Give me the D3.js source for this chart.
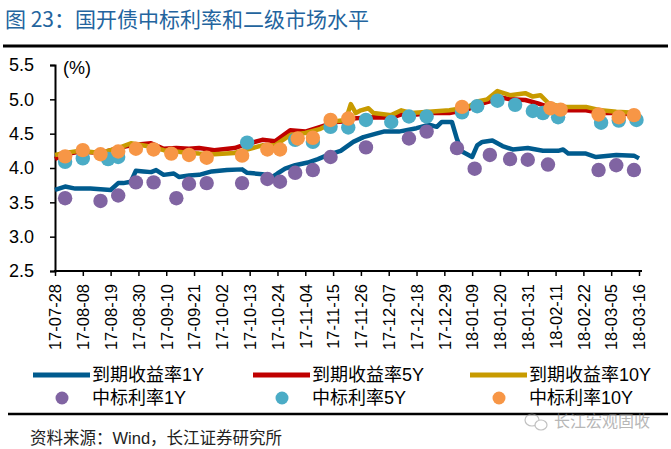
<!DOCTYPE html>
<html><head><meta charset="utf-8">
<script src="https://cdn.jsdelivr.net/npm/d3@7"></script>
<style>
html,body{margin:0;padding:0;background:#fff;}
svg{display:block;font-family:"Liberation Sans",Arial,"Noto Sans CJK SC",sans-serif;}
</style></head>
<body>
<svg id="c" width="671" height="449"></svg>
<script>
// ---------- data ----------
const tickLabels = ["17-07-28","17-08-08","17-08-19","17-08-30","17-09-10","17-09-21","17-10-02","17-10-13","17-10-24","17-11-04","17-11-15","17-11-26","17-12-07","17-12-18","17-12-29","18-01-09","18-01-20","18-01-31","18-02-11","18-02-22","18-03-05","18-03-16"];
const yTicks = [2.5,3.0,3.5,4.0,4.5,5.0,5.5];
const seriesNames = ["到期收益率1Y","到期收益率5Y","到期收益率10Y","中标利率1Y","中标利率5Y","中标利率10Y"];

const ytm1Y = [["2017-07-28",3.68],["2017-08-01",3.73],["2017-08-05",3.70],["2017-08-11",3.70],["2017-08-19",3.68],["2017-08-22",3.78],["2017-08-24",3.78],["2017-08-27",3.80],["2017-08-29",3.96],["2017-09-01",3.95],["2017-09-04",3.94],["2017-09-06",3.97],["2017-09-09",3.90],["2017-09-13",3.92],["2017-09-15",3.87],["2017-09-19",3.89],["2017-09-23",3.90],["2017-09-28",3.95],["2017-10-04",3.97],["2017-10-10",3.98],["2017-10-12",3.93],["2017-10-18",3.91],["2017-10-22",3.87],["2017-10-24",3.92],["2017-10-27",3.99],["2017-10-31",4.04],["2017-11-05",4.08],["2017-11-09",4.13],["2017-11-13",4.19],["2017-11-18",4.25],["2017-11-23",4.38],["2017-11-27",4.45],["2017-12-02",4.50],["2017-12-05",4.53],["2017-12-11",4.53],["2017-12-18",4.58],["2017-12-23",4.63],["2017-12-26",4.60],["2017-12-28",4.67],["2018-01-01",4.67],["2018-01-03",4.42],["2018-01-05",4.24],["2018-01-09",4.16],["2018-01-11",4.33],["2018-01-13",4.38],["2018-01-17",4.40],["2018-01-21",4.32],["2018-01-25",4.27],["2018-01-31",4.29],["2018-02-06",4.25],["2018-02-12",4.25],["2018-02-14",4.27],["2018-02-16",4.21],["2018-02-23",4.21],["2018-02-27",4.16],["2018-03-07",4.19],["2018-03-14",4.18],["2018-03-16",4.14]];

const ytm5Y = [["2017-07-28",4.13],["2017-08-01",4.20],["2017-08-07",4.24],["2017-08-15",4.22],["2017-08-22",4.29],["2017-08-27",4.33],["2017-09-04",4.36],["2017-09-09",4.28],["2017-09-14",4.29],["2017-09-19",4.28],["2017-09-23",4.29],["2017-09-29",4.26],["2017-10-07",4.29],["2017-10-12",4.35],["2017-10-18",4.41],["2017-10-23",4.39],["2017-10-29",4.55],["2017-11-04",4.53],["2017-11-10",4.60],["2017-11-16",4.67],["2017-11-20",4.68],["2017-11-23",4.72],["2017-11-26",4.73],["2017-12-01",4.74],["2017-12-08",4.73],["2017-12-12",4.78],["2017-12-18",4.78],["2017-12-23",4.80],["2017-12-31",4.80],["2018-01-07",4.85],["2018-01-11",4.92],["2018-01-16",4.97],["2018-01-19",5.04],["2018-01-24",5.00],["2018-01-30",4.99],["2018-02-04",4.94],["2018-02-09",4.88],["2018-02-15",4.84],["2018-02-23",4.84],["2018-03-01",4.80],["2018-03-07",4.80],["2018-03-16",4.77]];

const ytm10Y = [["2017-07-28",4.19],["2017-08-01",4.22],["2017-08-07",4.25],["2017-08-15",4.22],["2017-08-22",4.29],["2017-08-27",4.36],["2017-09-04",4.31],["2017-09-09",4.26],["2017-09-14",4.24],["2017-09-19",4.22],["2017-09-23",4.21],["2017-09-29",4.20],["2017-10-07",4.22],["2017-10-12",4.27],["2017-10-18",4.33],["2017-10-23",4.33],["2017-10-29",4.48],["2017-11-04",4.51],["2017-11-10",4.57],["2017-11-16",4.68],["2017-11-20",4.70],["2017-11-22",4.93],["2017-11-24",4.80],["2017-11-26",4.84],["2017-11-29",4.87],["2017-12-01",4.80],["2017-12-08",4.77],["2017-12-12",4.84],["2017-12-16",4.80],["2017-12-23",4.82],["2017-12-31",4.84],["2018-01-07",4.88],["2018-01-11",4.97],["2018-01-15",5.00],["2018-01-19",5.12],["2018-01-24",5.06],["2018-01-30",5.09],["2018-02-02",5.04],["2018-02-05",5.06],["2018-02-08",4.95],["2018-02-13",4.89],["2018-02-23",4.89],["2018-03-01",4.84],["2018-03-07",4.82],["2018-03-16",4.80]];

const bid1Y = [["2017-08-01",3.56],["2017-08-15",3.52],["2017-08-22",3.60],["2017-08-29",3.79],["2017-09-05",3.79],["2017-09-14",3.56],["2017-09-19",3.77],["2017-09-26",3.78],["2017-10-10",3.78],["2017-10-20",3.84],["2017-10-25",3.80],["2017-10-31",3.93],["2017-11-07",3.97],["2017-11-14",4.16],["2017-11-28",4.30],["2017-12-15",4.43],["2017-12-22",4.53],["2018-01-03",4.29],["2018-01-10",3.99],["2018-01-16",4.19],["2018-01-24",4.13],["2018-01-31",4.12],["2018-02-08",4.05],["2018-02-28",3.97],["2018-03-07",4.04],["2018-03-14",3.97]];

const bid5Y = [["2017-08-01",4.09],["2017-08-08",4.14],["2017-08-18",4.13],["2017-08-22",4.16],["2017-10-12",4.37],["2017-10-31",4.41],["2017-11-07",4.38],["2017-11-14",4.60],["2017-11-21",4.59],["2017-11-28",4.70],["2017-12-08",4.67],["2017-12-15",4.75],["2017-12-22",4.75],["2018-01-05",4.81],["2018-01-11",4.90],["2018-01-19",4.98],["2018-01-26",4.92],["2018-02-02",4.83],["2018-02-06",4.80],["2018-02-12",4.74],["2018-03-01",4.66],["2018-03-08",4.69],["2018-03-15",4.70]];

const bid10Y = [["2017-08-01",4.17],["2017-08-08",4.26],["2017-08-15",4.20],["2017-08-22",4.24],["2017-08-29",4.28],["2017-09-05",4.27],["2017-09-12",4.21],["2017-09-19",4.19],["2017-09-26",4.15],["2017-10-10",4.18],["2017-10-20",4.27],["2017-10-25",4.27],["2017-11-01",4.43],["2017-11-07",4.44],["2017-11-14",4.70],["2017-11-21",4.72],["2018-01-05",4.89],["2018-02-09",4.87],["2018-02-13",4.85],["2018-02-28",4.78],["2018-03-08",4.74],["2018-03-14",4.77]];

// ---------- drawing ----------
const parse = d3.timeParse("%Y-%m-%d");
const parseTick = d3.timeParse("%y-%m-%d");
const svg = d3.select("#c");

const colors = {l1:"#005b8e", l5:"#c00000", l10:"#c89b00", d1:"#8064a2", d5:"#4bacc6", d10:"#f79646"};

// title
svg.append("text").attr("x",5).attr("y",27).attr("fill","#23649e")
  .style("font-size","21px").style("font-family",'"Noto Sans CJK SC","Liberation Sans",sans-serif')
  .text("图 23：国开债中标利率和二级市场水平");
svg.append("line").attr("x1",3).attr("x2",668).attr("y1",46).attr("y2",46).attr("stroke","#000").attr("stroke-width",3);

const x = d3.scaleTime().domain([parseTick(tickLabels[0]), parseTick(tickLabels[tickLabels.length-1])]).range([55,639]);
const y = d3.scaleLinear().domain([2.5,5.5]).range([271,65]);

// axes
const xAxis = d3.axisBottom(x).tickValues(tickLabels.map(parseTick)).tickFormat(d3.timeFormat("%y-%m-%d")).tickSizeOuter(0).tickSize(5);
const gx = svg.append("g").attr("transform","translate(0,271)").call(xAxis);
gx.select(".domain").attr("stroke","#000").attr("stroke-width",2).attr("d","M54,0H642");
gx.selectAll(".tick line").attr("stroke","#000").attr("stroke-width",1.5);
gx.selectAll(".tick text").attr("fill","#000").style("font-size","16.5px")
  .attr("transform","rotate(-90)").attr("text-anchor","end").attr("x",-13).attr("y",0).attr("dy","0.35em");

const yAxis = d3.axisLeft(y).tickValues(yTicks).tickFormat(d3.format(".1f")).tickSizeOuter(0).tickSize(5);
const gy = svg.append("g").attr("transform","translate(55,0)").call(yAxis);
gy.select(".domain").attr("stroke","#000").attr("stroke-width",2);
gy.selectAll(".tick line").attr("stroke","#000").attr("stroke-width",1.5);
gy.selectAll(".tick text").attr("fill","#000").style("font-size","18px").attr("x",-21);

svg.append("text").attr("x",63).attr("y",74).style("font-size","18px").text("(%)");

// lines
const line = d3.line().x(d=>x(parse(d[0]))).y(d=>y(d[1]));
svg.append("path").datum(ytm1Y).attr("d",line).attr("fill","none").attr("stroke",colors.l1).attr("stroke-width",4.5).attr("stroke-linejoin","round");
svg.append("path").datum(ytm5Y).attr("d",line).attr("fill","none").attr("stroke",colors.l5).attr("stroke-width",4.5).attr("stroke-linejoin","round");
svg.append("path").datum(ytm10Y).attr("d",line).attr("fill","none").attr("stroke",colors.l10).attr("stroke-width",4.5).attr("stroke-linejoin","round");

// dots
function dots(data,col){
  svg.append("g").selectAll("circle").data(data).join("circle")
    .attr("cx",d=>x(parse(d[0]))).attr("cy",d=>y(d[1])).attr("r",7.2).attr("fill",col);
}
dots(bid1Y,colors.d1);
dots(bid5Y,colors.d5);
dots(bid10Y,colors.d10);

// legend
const legX = [33,253,470];
const lg = svg.append("g").style("font-size","18px");
[colors.l1,colors.l5,colors.l10].forEach((c,i)=>{
  lg.append("line").attr("x1",legX[i]).attr("x2",legX[i]+57).attr("y1",375).attr("y2",375).attr("stroke",c).attr("stroke-width",5);
  lg.append("text").attr("x",legX[i]+59).attr("y",375).attr("dy","0.36em").text(seriesNames[i]);
});
[colors.d1,colors.d5,colors.d10].forEach((c,i)=>{
  lg.append("circle").attr("cx",legX[i]+29).attr("cy",398).attr("r",6.5).attr("fill",c);
  lg.append("text").attr("x",legX[i]+59).attr("y",398).attr("dy","0.36em").text(seriesNames[i+3]);
});

svg.append("line").attr("x1",8).attr("x2",668).attr("y1",414).attr("y2",414).attr("stroke","#000").attr("stroke-width",2.5);

svg.append("text").attr("x",30).attr("y",438).attr("dy","0.36em").style("font-size","16.5px").attr("fill","#222")
  .text("资料来源：Wind，长江证券研究所");

// watermark
const wm = svg.append("g").attr("opacity",0.6);
wm.append("ellipse").attr("cx",532).attr("cy",420).attr("rx",7).attr("ry",6).attr("fill","none").attr("stroke","#999").attr("stroke-width",1.2);
wm.append("ellipse").attr("cx",541).attr("cy",425).attr("rx",6).attr("ry",5).attr("fill","#fff").attr("stroke","#999").attr("stroke-width",1.2);
wm.append("text").attr("x",554).attr("y",421).attr("dy","0.36em").style("font-size","16px").attr("fill","#888").text("长江宏观固收");
</script>
</body></html>
